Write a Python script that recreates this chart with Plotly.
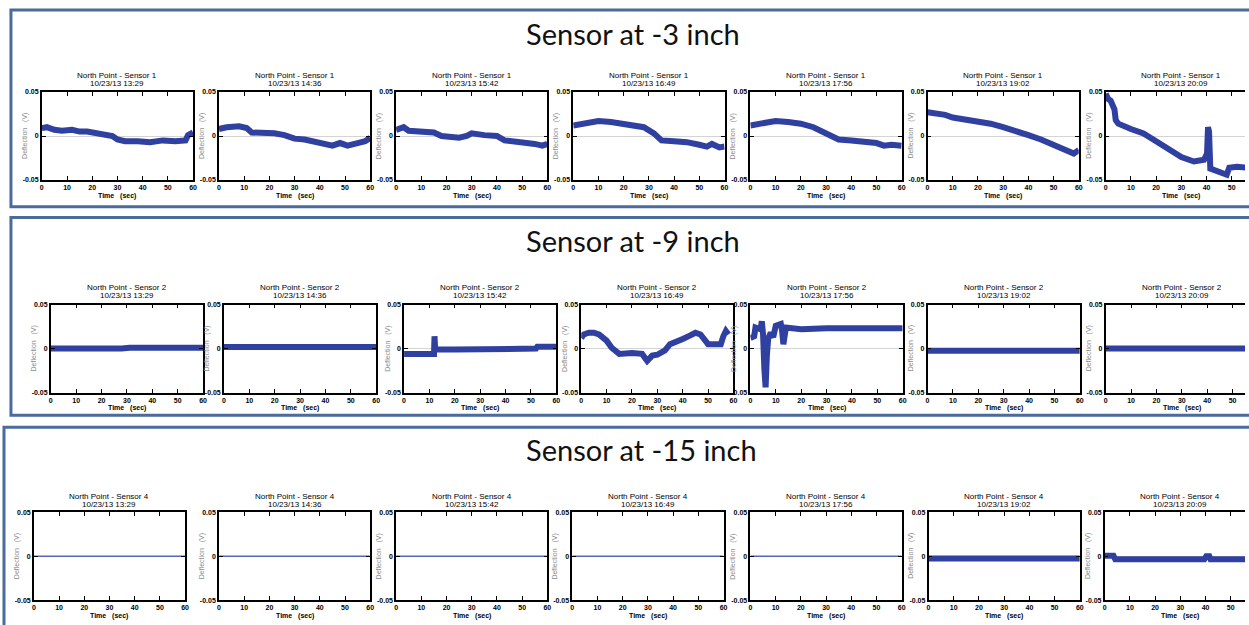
import plotly.graph_objects as go

W, H = 1249, 625

# ---------------- data ----------------
TIMES = ["13:29", "14:36", "15:42", "16:49", "17:56", "19:02", "20:09"]
DATE = "10/23/13"
SECTION_TITLES = ["Sensor at -3 inch", "Sensor at -9 inch", "Sensor at -15 inch"]
SENSOR_IDS = [1, 2, 4]
X_TICKS = [0, 10, 20, 30, 40, 50, 60]
Y_TICKS = [-0.05, 0, 0.05]
Y_TICK_TEXT = ["-0.05", "0", "0.05"]

sensor1_t = [
    [0, 2, 5, 8, 12, 15, 18, 22, 25, 28, 30, 33, 38, 43, 48, 53, 57, 58, 60],
    [0, 3, 8, 11, 13, 17, 22, 26, 30, 34, 38, 42, 45, 48, 51, 55, 58, 60],
    [0, 3, 5, 10, 15, 18, 22, 25, 28, 30, 35, 40, 43, 47, 52, 55, 58, 60],
    [0, 5, 10, 15, 20, 25, 28, 32, 35, 40, 45, 50, 53, 55, 58, 60],
    [0, 5, 10, 15, 20, 25, 28, 32, 35, 40, 45, 50, 53, 56, 60],
    [0, 3, 7, 10, 15, 20, 25, 30, 35, 40, 45, 48, 50, 53, 56, 58, 60],
    [0, 1, 2, 3, 3.5, 4, 5, 10, 15, 20, 25, 30, 35, 39, 40.2, 40.6, 41, 41.5,
     45, 48, 49, 52, 56, 60],
]
sensor1_v = [
    [0.009, 0.010, 0.007, 0.006, 0.007, 0.005, 0.005, 0.003, 0.002, 0.000, -0.004,
     -0.006, -0.006, -0.007, -0.005, -0.006, -0.005, 0.001, 0.004],
    [0.008, 0.010, 0.011, 0.009, 0.004, 0.004, 0.003, 0.001, -0.003, -0.004, -0.007,
     -0.009, -0.011, -0.008, -0.011, -0.008, -0.006, -0.002],
    [0.007, 0.010, 0.006, 0.005, 0.004, 0.000, -0.001, -0.002, 0.000, 0.003, 0.001,
     0.000, -0.005, -0.006, -0.008, -0.009, -0.011, -0.009],
    [0.012, 0.015, 0.017, 0.016, 0.014, 0.011, 0.010, 0.003, -0.005, -0.006, -0.007,
     -0.010, -0.012, -0.009, -0.013, -0.012],
    [0.012, 0.015, 0.017, 0.016, 0.014, 0.010, 0.006, 0.000, -0.004, -0.005, -0.006,
     -0.008, -0.011, -0.010, -0.011],
    [0.027, 0.026, 0.024, 0.021, 0.019, 0.016, 0.014, 0.010, 0.006, 0.001, -0.004,
     -0.008, -0.011, -0.015, -0.018, -0.020, -0.016],
    [0.048, 0.042, 0.040, 0.034, 0.030, 0.018, 0.014, 0.008, 0.003, -0.006, -0.016,
     -0.024, -0.029, -0.027, -0.020, 0.010, 0.005, -0.037, -0.041, -0.044, -0.036,
     -0.035, -0.036, -0.035],
]

sensor2_t = [
    [0, 5, 6, 7, 10, 15, 20, 24, 28, 31, 40, 50, 52, 56, 60],
    [0, 11, 12, 25, 37, 60],
    [0, 11.8, 12, 12.3, 12.6, 20, 30, 40, 50, 52, 52.5, 60],
    [0, 1, 3, 5, 7, 8, 10, 12, 15, 20, 24, 26, 28, 30, 33, 35, 38, 40, 43, 45,
     47, 48, 50, 53, 55, 56, 57, 58],
    [0, 1.5, 2, 4, 4.5, 5, 5.5, 6, 6.5, 7, 8, 9, 10, 12, 12.5, 13, 14, 20, 30,
     40, 50, 60],
    [0, 10, 20, 30, 40, 50, 60],
    [0, 10, 20, 30, 40, 50, 60],
]
sensor2_v = [
    [0.000, 0.000, -0.001, 0.000, -0.001, -0.001, -0.001, 0.000, 0.000, 0.001,
     0.001, 0.001, 0.001, 0.001, 0.001],
    [0.0017, 0.0017, 0.0017, 0.0017, 0.0017, 0.0017],
    [-0.006, -0.006, 0.014, -0.003, -0.001, -0.001, -0.001, -0.001, -0.001, 0.000,
     0.002, 0.002],
    [0.012, 0.016, 0.018, 0.018, 0.016, 0.014, 0.009, 0.001, -0.006, -0.005,
     -0.006, -0.014, -0.008, -0.007, -0.002, 0.005, 0.008, 0.011, 0.015, 0.018,
     0.016, 0.012, 0.005, 0.005, 0.005, 0.014, 0.020, 0.016],
    [0.012, 0.014, 0.024, 0.022, 0.031, 0.016, -0.023, -0.044, -0.008, 0.011,
     0.018, 0.013, 0.026, 0.028, 0.020, 0.005, 0.024, 0.022, 0.023, 0.023,
     0.023, 0.023],
    [-0.0025, -0.0025, -0.0025, -0.0025, -0.0025, -0.0025, -0.0025],
    [0.0, 0.0, 0.0, 0.0, 0.0, 0.0, 0.0],
]

sensor4_t = [
    [0, 60], [0, 60], [0, 60], [0, 60], [0, 60],
    [0, 20, 40, 60],
    [0, 3.5, 4.2, 39.5, 40.3, 41.5, 42, 60],
]
sensor4_v = [
    [0, 0], [0, 0], [0, 0], [0, 0], [0, 0],
    [-0.0025, -0.0025, -0.0025, -0.0025],
    [0.0005, 0.0005, -0.0035, -0.0035, 0.0, 0.0, -0.0035, -0.0035],
]

# ---------------- layout geometry (pixels) ----------------
PANELS = [
    dict(lefts=[40, 218, 396, 574, 752, 930, 1109], w=152, top=89, bot=178,
         t1=72, t2=80, title_y=30, box=(9, 6, 1300, 205)),
    dict(lefts=[49, 223, 404, 582, 752, 930, 1109], w=153, top=304, bot=393,
         t1=287, t2=295, title_y=239, box=(9, 216, 1300, 416)),
    dict(lefts=[32, 218, 396, 573, 752, 931, 1108], w=152, top=514, bot=603,
         t1=498, t2=506, title_y=451, box=(2, 428, 1300, 660)),
]
DATA_T = [sensor1_t, sensor2_t, sensor4_t]
DATA_V = [sensor1_v, sensor2_v, sensor4_v]

LINE_BLUE = "#3040a0"
THIN_BLUE = "#5566b8"
BORDER = "#4b6b9c"
FONT = "Liberation Sans"


def px(x):
    return x / W


def py(y):
    return 1 - y / H


fig = go.Figure()
layout = dict(width=W, height=H, margin=dict(l=0, r=0, t=0, b=0),
              paper_bgcolor="white", plot_bgcolor="white", showlegend=False)
annotations = []
shapes = []

idx = 0
for p, panel in enumerate(PANELS):
    bx0, by0, bx1, by1 = panel["box"]
    shapes.append(dict(type="rect", xref="paper", yref="paper",
                       x0=px(bx0), x1=px(bx1), y0=py(by1), y1=py(by0),
                       line=dict(color=BORDER, width=3), layer="below"))
    annotations.append(dict(text=SECTION_TITLES[p], x=px(525), y=py(panel["title_y"]),
                            xref="paper", yref="paper", xanchor="left", yanchor="middle",
                            showarrow=False, font=dict(family="Lato", size=29, color="#111")))
    for k in range(7):
        idx += 1
        left = panel["lefts"][k]
        right = left + panel["w"]
        xmax = 60
        last = right > W
        if last:
            xmax = 60 * (W - left) / panel["w"]
            right = W
        xa = "xaxis" if idx == 1 else f"xaxis{idx}"
        ya = "yaxis" if idx == 1 else f"yaxis{idx}"
        xr = "x" if idx == 1 else f"x{idx}"
        yr = "y" if idx == 1 else f"y{idx}"
        layout[xa] = dict(domain=[px(left), px(right)], range=[0, xmax], anchor=yr,
                          showline=True, linecolor="black", linewidth=1.5,
                          mirror="ticks", ticks="inside", ticklen=4, tickwidth=1.3,
                          tickcolor="black", tickvals=X_TICKS, showgrid=False,
                          zeroline=False,
                          tickfont=dict(family=FONT, size=7, color="black", weight="bold"))
        layout[ya] = dict(domain=[py(panel["bot"]), py(panel["top"])], range=[-0.05, 0.05],
                          anchor=xr, showline=True, linecolor="black", linewidth=1.5,
                          mirror=False if last else "ticks", ticks="inside", ticklen=4,
                          tickwidth=1.3, tickcolor="black", tickvals=Y_TICKS,
                          ticktext=Y_TICK_TEXT, showgrid=False, zeroline=True,
                          zerolinecolor="#d4d4d4", zerolinewidth=1,
                          tickfont=dict(family=FONT, size=7, color="black", weight="bold"))
        t = DATA_T[p][k]
        v = DATA_V[p][k]
        thin = (p == 2 and k < 5)
        fig.add_trace(go.Scatter(x=t, y=v, mode="lines", xaxis=xr, yaxis=yr,
                                 line=dict(color=THIN_BLUE if thin else LINE_BLUE,
                                           width=1.5 if thin else 6),
                                 hoverinfo="skip"))
        cx = left + panel["w"] / 2
        annotations.append(dict(text=f"North Point - Sensor {SENSOR_IDS[p]}",
                                x=px(cx), y=py(panel["t1"]), xref="paper", yref="paper",
                                xanchor="center", yanchor="middle", showarrow=False,
                                font=dict(family=FONT, size=8, color="black")))
        annotations.append(dict(text=f"{DATE} {TIMES[k]}",
                                x=px(cx), y=py(panel["t2"]), xref="paper", yref="paper",
                                xanchor="center", yanchor="middle", showarrow=False,
                                font=dict(family=FONT, size=8, color="black")))
        annotations.append(dict(text="Time   (sec)", x=px(cx), y=py(panel["bot"] + 16),
                                xref="paper", yref="paper", xanchor="center",
                                yanchor="middle", showarrow=False,
                                font=dict(family=FONT, size=7, color="black", weight="bold")))
        annotations.append(dict(text="Deflection   (V)", x=px(left - 17),
                                y=py((panel["top"] + panel["bot"]) / 2),
                                xref="paper", yref="paper", xanchor="center",
                                yanchor="middle", showarrow=False, textangle=-90,
                                font=dict(family=FONT, size=7, color="#8a8a8a")))

layout["annotations"] = annotations
layout["shapes"] = shapes
fig.update_layout(**layout)
fig.write_html("out.html", config={"displayModeBar": False},
               post_script="document.body.style.margin='0';document.body.style.overflow='hidden';")
